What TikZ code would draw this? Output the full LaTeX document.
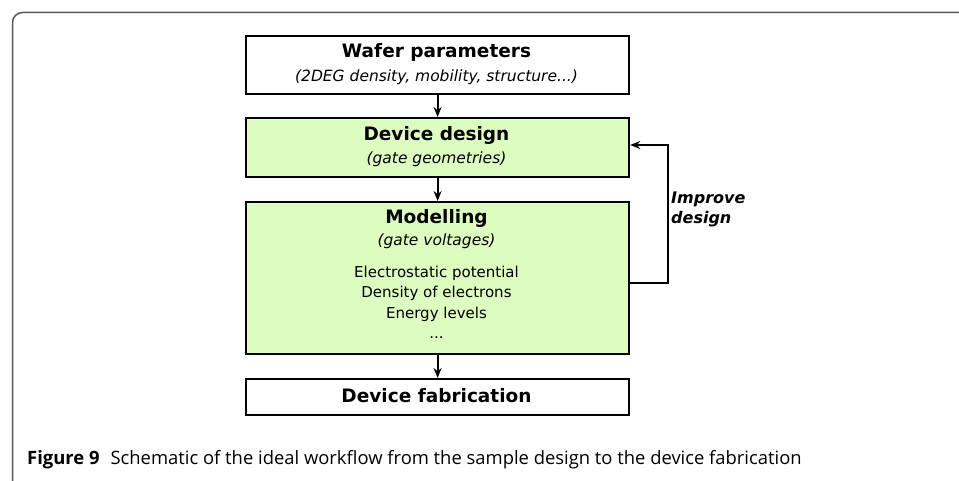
\documentclass[tikz,border=0pt]{standalone}
\usepackage{fontspec}
\setmainfont{DejaVu Sans}
\newfontfamily\capfont{Open Sans}
\usetikzlibrary{arrows.meta}
\definecolor{boxgreen}{RGB}{221,253,192}
\definecolor{framegray}{RGB}{90,90,90}
\begin{document}
\begin{tikzpicture}[x=1pt,y=-1pt,
  flowbox/.style={draw=black, line width=2.2pt, minimum width=383pt, inner sep=0pt, align=center, anchor=north west},
  greenbox/.style={flowbox, fill=boxgreen},
  whitebox/.style={flowbox, fill=white},
  conn/.style={draw=black, line width=1.8pt, -{Stealth[length=10pt,width=8pt]}},
  ttl/.style={font=\fontsize{18.5}{22}\selectfont\bfseries},
  sub/.style={font=\fontsize{15.5}{18}\selectfont\itshape}
]
\useasboundingbox (0,0) rectangle (959,481);
% outer frame (only top and left visible)
\draw[framegray, line width=1.5pt, rounded corners=10pt] (970,12.5) -- (12.5,12.5) -- (12.5,490);

% boxes
\node[whitebox, minimum height=58pt] (wafer) at (245,35) {};
\node[ttl] at (436.5,52) {Wafer parameters};
\node[sub] at (436.5,77) {(2DEG density, mobility, structure...)};

\node[greenbox, minimum height=59pt] (design) at (245,117) {};
\node[ttl] at (436.5,135) {Device design};
\node[sub] at (436.5,159) {(gate geometries)};

\node[greenbox, minimum height=152pt] (model) at (245,201) {};
\node[ttl] at (436.5,218) {Modelling};
\node[sub] at (436.5,241) {(gate voltages)};
\node[font=\fontsize{15}{20.3}\selectfont, align=center, anchor=north, inner sep=0pt] (res) at (436.5,266)
  {Electrostatic potential\\Density of electrons\\Energy levels\\...};

\node[whitebox, minimum height=36pt] (fab) at (245,378) {};
\node[ttl] at (436.5,396) {Device fabrication};

% connectors
\draw[conn] (wafer.south) -- (design.north);
\draw[conn] (design.south) -- (model.north);
\draw[conn] (model.south) -- (fab.north);
\coordinate (fbA) at (668,283);
\coordinate (fbB) at (668,145);
\draw[conn] (628,283) -- (fbA) -- (fbB) -- (design.east |- fbB);
\node[anchor=north west, align=left, inner sep=0pt, font=\fontsize{16}{20}\selectfont\bfseries\itshape] (imp) at (671,192) {Improve\\design};

% caption
\node[anchor=west, inner sep=0pt, font=\capfont\fontsize{18.4}{21}\selectfont] (cap) at (27,460)
  {\textbf{Figure 9}\hspace{0.6em}Schematic of the ideal workflow from the sample design to the device fabrication};
\end{tikzpicture}
\end{document}
